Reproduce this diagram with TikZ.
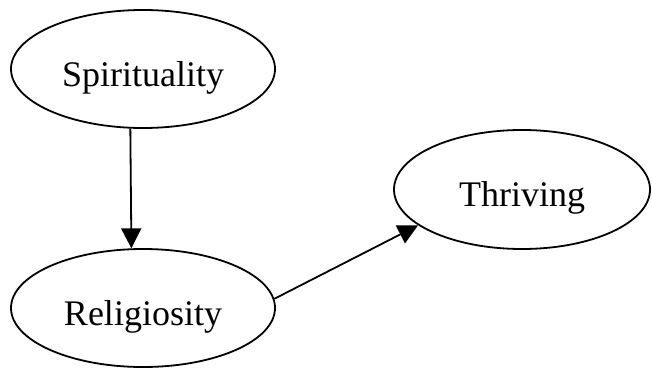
\documentclass[tikz,border=0pt]{standalone}
\usepackage{fontspec}
\setmainfont{Liberation Serif}
\usetikzlibrary{arrows.meta,shapes.geometric}
\tikzset{
  varnode/.style={draw=black, line width=1.8pt, ellipse, inner sep=0pt,
    minimum width=264pt, minimum height=118pt,
    font=\fontsize{36}{40}\selectfont, text height=34pt, text depth=0pt},
  edgearrow/.style={line width=1.8pt, -{Triangle[length=20pt,width=20pt]}}
}
\begin{document}
\begin{tikzpicture}[x=1pt,y=-1pt]
\useasboundingbox (0,0) rectangle (652,369);
\node[varnode] (s) at (143,69) {Spirituality};
\node[varnode] (r) at (143,308) {Religiosity};
\node[varnode, minimum width=256pt, minimum height=119pt] (t) at (522,189.5) {Thriving};
\draw[edgearrow] (s.258.5) -- (r.101.5);
\draw[edgearrow] (r.4.8) -- (t.199.6);
\end{tikzpicture}
\end{document}
